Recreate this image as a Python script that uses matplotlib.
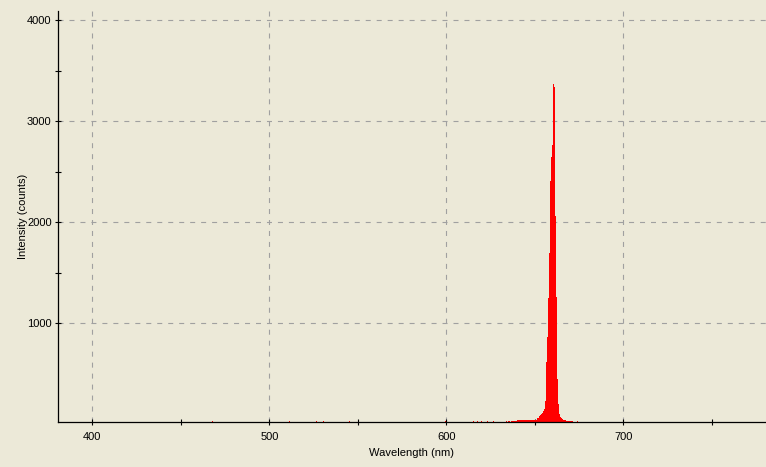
import matplotlib
matplotlib.use("Agg")
import matplotlib.pyplot as plt
import numpy as np

# spectrum around the line (nm, counts)
peak_wl = [634.0, 635.1, 635.7, 636.8, 637.4, 637.9, 638.6, 639.1, 639.7,
           640.3, 640.8, 641.4, 642.0, 642.5, 643.1, 643.7, 644.2, 644.8,
           645.3, 645.9, 646.5, 647.0, 647.6, 648.2, 648.7, 649.3, 649.8,
           650.4, 651.0, 651.5, 652.1, 652.7, 653.2, 653.8, 654.3, 654.9,
           655.5, 656.0, 656.6, 657.2, 657.7, 658.3, 658.9, 659.4, 660.0,
           660.6, 661.1, 661.7, 662.2, 662.8, 663.4, 663.9, 664.5, 665.1,
           665.6, 666.2, 666.7, 667.3, 667.9, 668.4, 669.0, 669.6, 670.1,
           670.7, 671.2, 674.1]
peak_counts = [30, 30, 30, 30, 30, 30, 30, 30, 30,
               35, 35, 35, 35, 35, 35, 35, 35, 35,
               40, 40, 40, 40, 40, 40, 40, 40, 40,
               40, 40, 62, 62, 75, 85, 95, 109, 125,
               149, 224, 617, 864, 1250, 1696, 2409, 2647, 2765,
               3369, 3340, 2062, 1254, 449, 194, 102, 69, 55,
               46, 40, 40, 40, 33, 33, 33, 33, 33,
               33, 33, 33]

# isolated noise samples poking above the axis floor
noise_wl = [467.9, 511.4, 526.7, 530.6, 545.3, 599.5, 615.3, 617.6, 619.9,
            623.3, 626.7]
noise_counts = [30, 30, 30, 30, 30, 30, 30, 30, 30, 30, 30]

bg = "#ECE9D8"
plt.rcParams["font.family"] = ["Liberation Sans", "DejaVu Sans"]
plt.rcParams["lines.scale_dashes"] = False

fig = plt.figure(figsize=(7.66, 4.67), dpi=100, facecolor=bg)
ax = fig.add_axes([57.5 / 766, 45 / 467, 1 - 57.5 / 766, 411 / 467])
ax.set_facecolor(bg)

ax.bar(peak_wl, peak_counts, width=0.58, color="red", linewidth=0, zorder=3)
ax.bar(noise_wl, noise_counts, width=0.58, color="red", linewidth=0, zorder=3)

ax.set_xlim(380.3, 780.6)
ax.set_ylim(20, 4092)

ax.set_xticks([400, 500, 600, 700])
ax.set_xticks([450, 550, 650, 750], minor=True)
ax.set_yticks([1000, 2000, 3000, 4000])
ax.set_yticks([1500, 2500, 3500], minor=True)

ax.grid(True, which="major", color="#A0A0A0", linewidth=0.8,
        linestyle=(0, (3.6, 4.3)), zorder=1)

for s in ["top", "right"]:
    ax.spines[s].set_visible(False)
for s in ["left", "bottom"]:
    ax.spines[s].set_linewidth(0.9)
    ax.spines[s].set_color("black")
    ax.spines[s].set_zorder(4)

ax.tick_params(which="both", direction="inout", length=4.5, width=0.8,
               colors="black", labelsize=8, pad=2)
ax.tick_params(axis="x", which="both", pad=5)

ax.set_xlabel("Wavelength (nm)", fontsize=8, labelpad=4.5)
ax.set_ylabel("Intensity (counts)", fontsize=8, labelpad=-1)

fig.savefig("out.png", dpi=100, facecolor=bg)
